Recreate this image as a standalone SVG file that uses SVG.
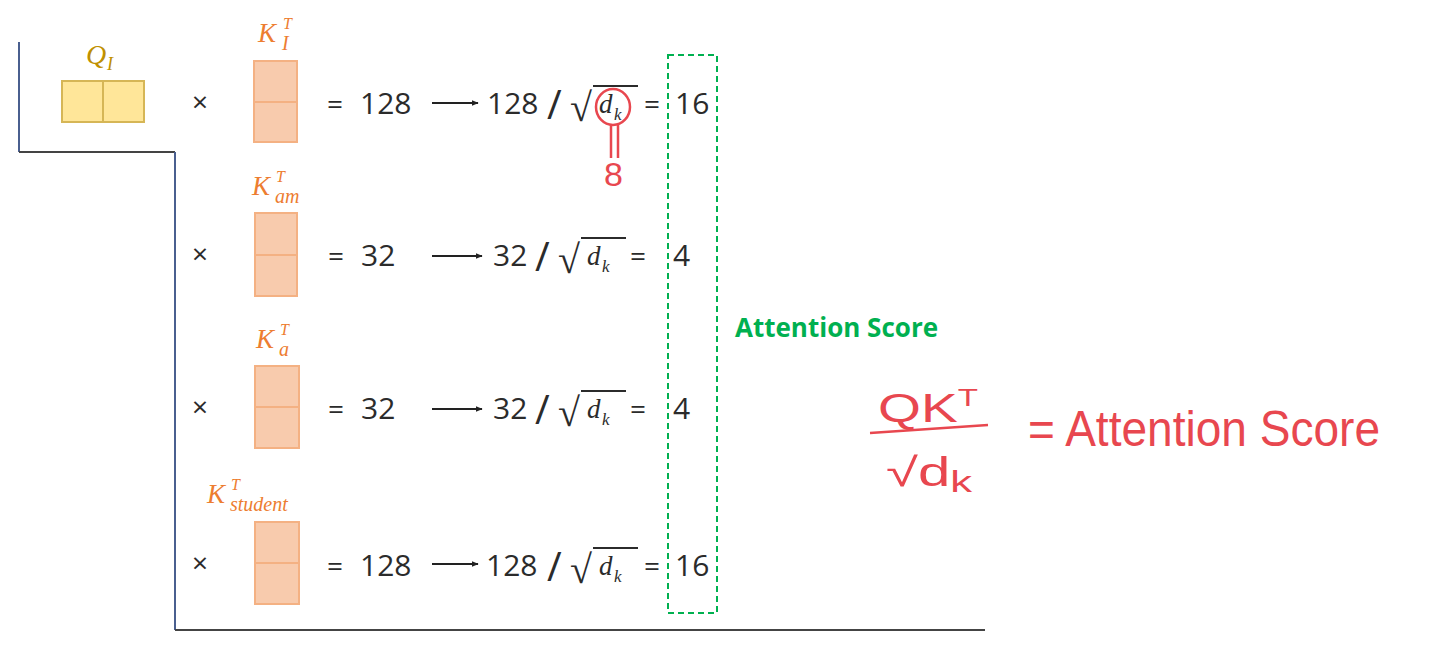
<svg xmlns="http://www.w3.org/2000/svg" width="1440" height="655" viewBox="0 0 1440 655">
<defs>
<marker id="ah" viewBox="0 0 10 10" refX="9" refY="5" markerWidth="7" markerHeight="7" markerUnits="userSpaceOnUse" orient="auto"><path d="M0,1 L10,5 L0,9 z" fill="#222"/></marker>
<style>
.num{font-family:"Open Sans","Noto Sans",sans-serif;font-size:30px;fill:#2b2b2b}
.op{font-family:"Open Sans","Noto Sans",sans-serif;font-size:28px;fill:#2b2b2b}
.sl{font-family:"Open Sans","Noto Sans",sans-serif;font-size:40px;fill:#2b2b2b}
.rt{font-family:"Liberation Serif",serif;font-size:40px;fill:#2b2b2b}
.mi{font-family:"Liberation Serif",serif;font-style:italic;font-size:27px;fill:#2b2b2b}
.mk{font-family:"Liberation Serif",serif;font-style:italic;font-size:17px;fill:#2b2b2b}
.kl{font-family:"Liberation Serif",serif;font-style:italic;font-size:27px;fill:#ED7D31}
.ks{font-family:"Liberation Serif",serif;font-style:italic;font-size:16px;fill:#ED7D31}
.kb{font-family:"Liberation Serif",serif;font-style:italic;font-size:20px;fill:#ED7D31}
.kbox{fill:#F8CBAD;stroke:#F4B183;stroke-width:2}
.hand{font-family:"Liberation Sans",sans-serif;fill:#E8474F}
.frame{fill:none;stroke-width:2}
</style>
</defs>
<rect width="1440" height="655" fill="#fff"/>
<g id="frame">
<path d="M19,42 V152" class="frame" stroke="#4a5f8f"/>
<path d="M19,152 H175" class="frame" stroke="#444"/>
<path d="M175,152 V630" class="frame" stroke="#4a5f8f"/>
<path d="M175,630 H985" class="frame" stroke="#444"/>
</g>
<g id="q">
<rect x="62" y="81" width="82" height="41" fill="#FFE699" stroke="#D6B656" stroke-width="2"/>
<line x1="103" y1="81" x2="103" y2="122" stroke="#D6B656" stroke-width="2"/>
<text x="86" y="64" font-family="Liberation Serif,serif" font-style="italic" font-size="28" fill="#BF9000">Q</text>
<text x="107" y="70" font-family="Liberation Serif,serif" font-style="italic" font-size="18" fill="#BF9000">I</text>
</g>
<g id="row1">
<text x="200" y="112" class="op" text-anchor="middle">×</text>
<text x="258" y="42" class="kl">K</text><text x="283" y="29" class="ks">T</text><text x="282" y="50" class="kb">I</text>
<rect x="254" y="61" width="43" height="81" class="kbox"/><line x1="254" y1="102" x2="297" y2="102" stroke="#F4B183" stroke-width="2"/>
<text x="327" y="114" class="op">=</text>
<text x="360" y="114" class="num">128</text>
<line x1="432" y1="103" x2="478" y2="103" stroke="#222" stroke-width="2" marker-end="url(#ah)"/>
<text x="487" y="114" class="num">128</text>
<text x="547" y="119" class="sl">/</text>
<text x="570" y="121" class="rt">√</text>
<line x1="593" y1="86" x2="638" y2="86" stroke="#2b2b2b" stroke-width="2"/>
<text x="599" y="113" class="mi">d</text><text x="614" y="120" class="mk">k</text>
<text x="644" y="114" class="op">=</text>
<text x="675" y="114" class="num">16</text>
</g>
<g id="row2">
<text x="200" y="264" class="op" text-anchor="middle">×</text>
<text x="252" y="195" class="kl">K</text><text x="276" y="182" class="ks">T</text><text x="275" y="203" class="kb">am</text>
<rect x="255" y="213" width="42" height="83" class="kbox"/><line x1="255" y1="255" x2="297" y2="255" stroke="#F4B183" stroke-width="2"/>
<text x="328" y="266" class="op">=</text>
<text x="361" y="266" class="num">32</text>
<line x1="432" y1="256" x2="482" y2="256" stroke="#222" stroke-width="2" marker-end="url(#ah)"/>
<text x="493" y="266" class="num">32</text>
<text x="535" y="271" class="sl">/</text>
<text x="558" y="273" class="rt">√</text>
<line x1="581" y1="238" x2="626" y2="238" stroke="#2b2b2b" stroke-width="2"/>
<text x="587" y="265" class="mi">d</text><text x="602" y="272" class="mk">k</text>
<text x="630" y="266" class="op">=</text>
<text x="673" y="266" class="num">4</text>
</g>
<g id="row3">
<text x="200" y="417" class="op" text-anchor="middle">×</text>
<text x="256" y="348" class="kl">K</text><text x="280" y="335" class="ks">T</text><text x="279" y="356" class="kb">a</text>
<rect x="255" y="366" width="44" height="82" class="kbox"/><line x1="255" y1="407" x2="299" y2="407" stroke="#F4B183" stroke-width="2"/>
<text x="328" y="419" class="op">=</text>
<text x="361" y="419" class="num">32</text>
<line x1="432" y1="409" x2="482" y2="409" stroke="#222" stroke-width="2" marker-end="url(#ah)"/>
<text x="493" y="419" class="num">32</text>
<text x="535" y="424" class="sl">/</text>
<text x="558" y="426" class="rt">√</text>
<line x1="581" y1="391" x2="626" y2="391" stroke="#2b2b2b" stroke-width="2"/>
<text x="587" y="418" class="mi">d</text><text x="602" y="425" class="mk">k</text>
<text x="630" y="419" class="op">=</text>
<text x="673" y="419" class="num">4</text>
</g>
<g id="row4">
<text x="200" y="573" class="op" text-anchor="middle">×</text>
<text x="207" y="503" class="kl">K</text><text x="231" y="490" class="ks">T</text><text x="230" y="511" class="kb">student</text>
<rect x="255" y="522" width="44" height="82" class="kbox"/><line x1="255" y1="563" x2="299" y2="563" stroke="#F4B183" stroke-width="2"/>
<text x="327" y="576" class="op">=</text>
<text x="360" y="576" class="num">128</text>
<line x1="432" y1="564" x2="478" y2="564" stroke="#222" stroke-width="2" marker-end="url(#ah)"/>
<text x="486" y="576" class="num">128</text>
<text x="547" y="581" class="sl">/</text>
<text x="570" y="583" class="rt">√</text>
<line x1="593" y1="548" x2="638" y2="548" stroke="#2b2b2b" stroke-width="2"/>
<text x="599" y="575" class="mi">d</text><text x="614" y="582" class="mk">k</text>
<text x="644" y="576" class="op">=</text>
<text x="675" y="576" class="num">16</text>
</g>
<g id="score">
<rect x="668" y="55" width="49" height="558" fill="none" stroke="#00B050" stroke-width="2" stroke-dasharray="6,4"/>
<text x="735" y="337" font-family="Open Sans,Noto Sans,sans-serif" font-weight="bold" font-size="26" fill="#00B050">Attention Score</text>
</g>
<g id="annotation">
<ellipse cx="613" cy="107" rx="17" ry="18" fill="none" stroke="#E8474F" stroke-width="2.5"/>
<path d="M611,125 V158 M618,125 V158" stroke="#E8474F" stroke-width="2.5" fill="none"/>
<text x="604" y="186" class="hand" font-size="34">8</text>
<text x="878" y="422" class="hand" font-size="40" textLength="100" lengthAdjust="spacingAndGlyphs">QK<tspan font-size="24" dy="-16">T</tspan></text>
<path d="M870,433 L988,425" stroke="#E8474F" stroke-width="2.5" fill="none"/>
<text x="886" y="486" class="hand" font-size="40" textLength="86" lengthAdjust="spacingAndGlyphs">√d<tspan font-size="30" dy="6">k</tspan></text>
<text x="1028" y="446" class="hand" font-size="50" textLength="352" lengthAdjust="spacingAndGlyphs">= Attention Score</text>
</g>
</svg>
